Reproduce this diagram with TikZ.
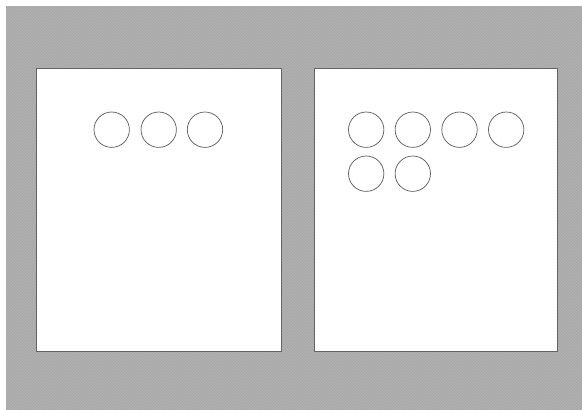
\documentclass[tikz,border=0pt]{standalone}
\usetikzlibrary{patterns}
\definecolor{bggray}{RGB}{168,168,168}
\definecolor{hatch}{RGB}{182,182,182}
\definecolor{edge}{RGB}{100,100,100}
\definecolor{ring}{RGB}{90,90,90}
\tikzset{
  panel/.style={fill=white, draw=edge, line width=0.9pt},
  ball/.style={circle, draw=ring, line width=0.7pt, minimum size=35.4pt, inner sep=0pt, fill=white},
}
\begin{document}
\begin{tikzpicture}[x=1pt,y=-1pt]
\useasboundingbox (0,0) rectangle (582,410);
\fill[white] (0,0) rectangle (582,410);
\fill[bggray] (6,6) rectangle (582,410);
\fill[pattern=north west lines, pattern color=hatch] (6,6) rectangle (582,410);
\draw[panel] (36,68) rectangle (281,351);
\draw[panel] (314,68) rectangle (557,351);
\node[ball] (l1) at (111.7,129.7) {};
\node[ball] (l2) at (158.7,129.7) {};
\node[ball] (l3) at (205,129.7) {};
\node[ball] (r1) at (366.2,129.7) {};
\node[ball] (r2) at (412.8,129.7) {};
\node[ball] (r3) at (459.5,129.7) {};
\node[ball] (r4) at (506.2,129.7) {};
\node[ball] (r5) at (366.2,173.7) {};
\node[ball] (r6) at (412.8,173.7) {};
\end{tikzpicture}
\end{document}
